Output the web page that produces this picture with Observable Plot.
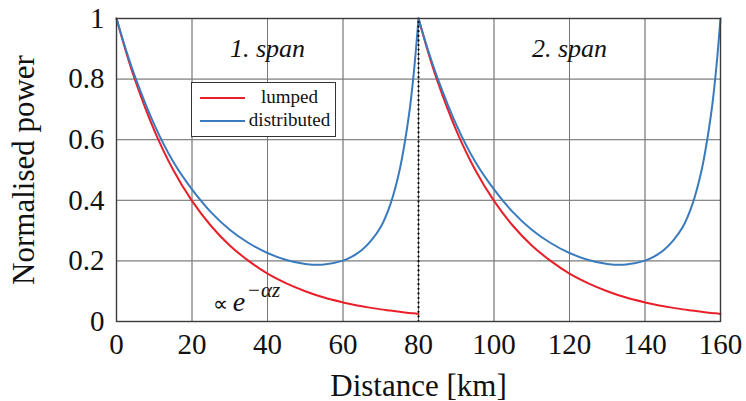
<!DOCTYPE html>
<html>
<head>
<meta charset="utf-8">
<script src="https://cdn.jsdelivr.net/npm/d3@7"></script>
<script src="https://cdn.jsdelivr.net/npm/@observablehq/plot@0.6"></script>
<style>
  html, body { margin: 0; padding: 0; background: #fff; }
  #wrap { position: relative; width: 746px; height: 401px; overflow: hidden; font-family: "Liberation Serif", "Times New Roman", serif; }
  #wrap svg, #wrap svg text { font-family: "Liberation Serif", "Times New Roman", serif !important; }
  #legend {
    position: absolute; left: 191px; top: 82px; width: 145px; height: 55px;
    border: 1.2px solid #333; background: #fff; box-sizing: border-box;
    font-family: "Liberation Serif", serif; font-size: 19px; color: #111;
  }
  .row { position: absolute; left: 0; right: 0; height: 22px; }
  .sw { position: absolute; left: 8px; width: 45px; height: 0; border-top: 2px solid; top: 10px; }
  .lbl { position: absolute; left: 54px; right: 2px; text-align: center; top: -1px; line-height: 22px; }
</style>
</head>
<body>
<div id="wrap"></div>
<script>
// ---- data ----
const distance    = [0, 2.5, 5, 10, 15, 20, 25, 30, 35, 40, 45, 50, 55, 60, 62.5, 65, 67.5, 70, 72.5, 75, 77.5, 78.75, 80];
const lumped      = [1, 0.891, 0.794, 0.631, 0.501, 0.398, 0.316, 0.251, 0.200, 0.158, 0.126, 0.100, 0.079, 0.063, 0.056, 0.050, 0.045, 0.040, 0.036, 0.032, 0.028, 0.027, 0.025];
const distributed = [1, 0.897, 0.805, 0.650, 0.528, 0.436, 0.361, 0.303, 0.259, 0.226, 0.203, 0.190, 0.188, 0.201, 0.215, 0.236, 0.268, 0.312, 0.385, 0.500, 0.684, 0.820, 1];
const spanStart   = [0, 80];
const spanNames   = ["1. span", "2. span"];
const spanCenters = [40, 120];
const seriesNames = ["lumped", "distributed"];
const seriesColors = ["#e8202a", "#3a7bbd"];
const xTicks = [0, 20, 40, 60, 80, 100, 120, 140, 160];
const yTicks = [0, 0.2, 0.4, 0.6, 0.8, 1];
const yTickLabels = ["0", "0.2", "0.4", "0.6", "0.8", "1"];
const amplifierSite = [80];
const annotationAt = [{x: 25.5, y: 0.036}];

// build table
const rows = [];
spanStart.forEach((s, si) => {
  [lumped, distributed].forEach((vals, k) => {
    distance.forEach((d, i) => rows.push({x: s + d, y: vals[i], series: seriesNames[k], key: seriesNames[k] + si}));
  });
});
const spanLabels = spanNames.map((t, i) => ({x: spanCenters[i], t}));

const font = '"Liberation Serif", "Times New Roman", serif';

const chart = Plot.plot({
  width: 746,
  height: 401,
  marginLeft: 116,
  marginRight: 26,
  marginTop: 18,
  marginBottom: 80,
  style: {fontFamily: font, background: "#fff", color: "#111", overflow: "visible"},
  x: {domain: [0, 160]},
  y: {domain: [0, 1]},
  color: {domain: seriesNames, range: seriesColors},
  marks: [
    Plot.gridX(xTicks, {stroke: "#c8c8c8", strokeOpacity: 1, strokeWidth: 1}),
    Plot.gridY(yTicks, {stroke: "#c8c8c8", strokeOpacity: 1, strokeWidth: 1}),
    Plot.axisX(xTicks, {tickSize: 0, tickPadding: 12, fontSize: 29, fontFamily: font, label: null, tickFormat: d => String(d)}),
    Plot.axisY(yTicks, {tickSize: 0, tickPadding: 12, fontSize: 29, fontFamily: font, label: null, tickFormat: d => yTickLabels[yTicks.indexOf(d)]}),
    Plot.tickX(xTicks, {x: d => d, y1: 0, y2: 0.016, stroke: "#777", strokeWidth: 1}),
    Plot.tickY(yTicks, {y: d => d, x1: 0, x2: 2.2, stroke: "#777", strokeWidth: 1}),
    Plot.line(rows, {x: "x", y: "y", z: "key", stroke: "series", strokeWidth: 2, curve: "catmull-rom"}),
    Plot.ruleX(amplifierSite, {y1: 0, y2: 1, stroke: "#000", strokeWidth: 2.2, strokeDasharray: "0,4.6", strokeLinecap: "round"}),
    Plot.text(spanLabels, {x: "x", y: 0.9, text: "t", fontSize: 26, fontStyle: "italic", fontFamily: font, fill: "#111"}),
    Plot.text(annotationAt, {x: "x", y: "y", text: () => "\u221D", textAnchor: "start", lineAnchor: "bottom", fontSize: 21, fontFamily: font, fill: "#111"}),
    Plot.text(annotationAt, {x: "x", y: "y", text: () => "e", textAnchor: "start", lineAnchor: "bottom", dx: 20, fontSize: 28, fontStyle: "italic", fontFamily: font, fill: "#111"}),
    Plot.text(annotationAt, {x: "x", y: "y", text: () => "\u2212\u03B1z", textAnchor: "start", lineAnchor: "bottom", dx: 34, dy: -14, fontSize: 21, fontStyle: "italic", fontFamily: font, fill: "#111"}),
    Plot.frame({stroke: "#3a3a3a", strokeWidth: 1.4}),
    Plot.text(["Normalised power"], {frameAnchor: "left", textAnchor: "middle", dx: -92, rotate: -90, fontSize: 31, fontFamily: font, fill: "#111", text: d => d}),
    Plot.text(["Distance [km]"], {frameAnchor: "bottom", textAnchor: "middle", dy: 52, fontSize: 31, fontFamily: font, fill: "#111", text: d => d, lineAnchor: "top"})
  ]
});

const wrap = document.getElementById("wrap");
wrap.appendChild(chart);

// legend
const legend = document.createElement("div");
legend.id = "legend";
seriesNames.forEach((name, i) => {
  const row = document.createElement("div");
  row.className = "row";
  row.style.top = (4 + i * 23) + "px";
  const sw = document.createElement("div");
  sw.className = "sw";
  sw.style.borderTopColor = seriesColors[i];
  const lbl = document.createElement("div");
  lbl.className = "lbl";
  lbl.textContent = name;
  row.appendChild(sw);
  row.appendChild(lbl);
  legend.appendChild(row);
});
wrap.appendChild(legend);
</script>
</body>
</html>
